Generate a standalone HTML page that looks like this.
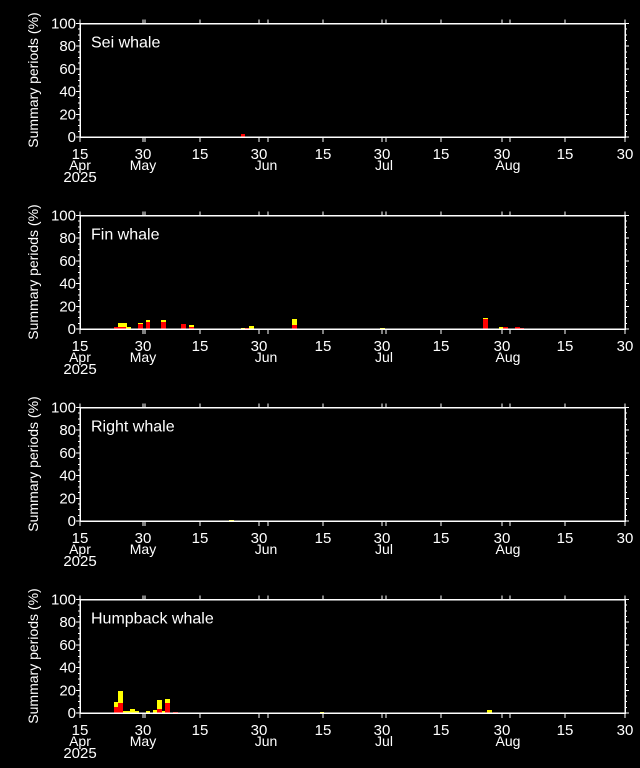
<!DOCTYPE html>
<html><head><style>
html,body{margin:0;padding:0;background:#000;}
svg{display:block;}
text{font-family:"Liberation Sans",sans-serif;fill:#fff;}
</style></head><body>
<svg id="s" width="640" height="768" xmlns="http://www.w3.org/2000/svg" shape-rendering="crispEdges"></svg>
<script>
const s=document.getElementById('s');let h='';
const L=80,R=625,H=113.5;
const ticks=[80,143,145,200,259,268,323,382,386,441,502,510,565,625];
const labs=[[80,'15'],[143,'30'],[200,'15'],[259,'30'],[323,'15'],[382,'30'],[441,'15'],[502,'30'],[565,'15'],[625,'30']];
const mons=[[80,'Apr'],[143,'May'],[266,'Jun'],[384,'Jul'],[508,'Aug']];
const panels=[
 {t:'Sei whale',b:[[241,4,3,0]]},
 {t:'Fin whale',b:[[114,4,2,0],[118,9,2,4],[126,5,0,2],[138,5,5,1],[146,4,7,2],[161,5,7,2],[181,5,5,0],[189,5,2,2],[241,4,0,1],[245,4,1,0],[249,5,0,3],[292,5,4,6],[380,5,0,1],[483,5,10,1],[499,4,0,2],[503,5,2,0],[515,5,2,0],[520,4,1,0]]},
 {t:'Right whale',b:[[229,5,0,1]]},
 {t:'Humpback whale',b:[[114,4,6,5],[118,5,10,12],[123,8,0,2],[130,5,0,4],[135,4,0,2],[146,4,0,2],[153,4,0,3],[157,5,4,9],[162,3,0,2],[165,5,10,4],[173,5,1,0],[320,4,0,1],[487,5,0,3]]}
];
panels.forEach((p,i)=>{
 const B=137+192*i,T=B-H;
 p.b.forEach(([x,w,r,y])=>{
  if(r)h+=`<rect x="${x}" y="${B-r}" width="${w}" height="${r}" fill="#f00"/>`;
  if(y)h+=`<rect x="${x}" y="${B-r-y}" width="${w}" height="${y}" fill="#ff0"/>`;
 });
 h+=`<rect x="${L}" y="${T}" width="${R-L}" height="${H}" fill="none" stroke="#fff" stroke-width="1.5"/>`;
 ticks.forEach(x=>{h+=`<line x1="${x}" y1="${B}" x2="${x}" y2="${B+5}" stroke="#fff"/><line x1="${x}" y1="${T}" x2="${x}" y2="${T-4}" stroke="#fff"/>`;});
 for(let v=0;v<=100;v+=5){const y=B-v*H/100;const len=v%20==0?4:2;
  h+=`<line x1="${L}" y1="${y}" x2="${L-len}" y2="${y}" stroke="#fff"/><line x1="${R}" y1="${y}" x2="${R+len}" y2="${y}" stroke="#fff"/>`;
  if(v%20==0)h+=`<text x="76" y="${y+5}" font-size="15" text-anchor="end">${v}</text>`;}
 labs.forEach(([x,t])=>h+=`<text x="${x}" y="${B+22}" font-size="15" text-anchor="middle">${t}</text>`);
 mons.forEach(([x,t])=>h+=`<text x="${x}" y="${B+33}" font-size="14" text-anchor="middle">${t}</text>`);
 h+=`<text x="80" y="${B+45}" font-size="15" text-anchor="middle">2025</text>`;
 h+=`<text x="91" y="${T+24}" font-size="16">${p.t}</text>`;
 const cy=B-57;
 h+=`<text transform="translate(38,${cy}) rotate(-90)" font-size="14" text-anchor="middle">Summary periods (%)</text>`;
});
s.innerHTML=h;
</script>
</body></html>
